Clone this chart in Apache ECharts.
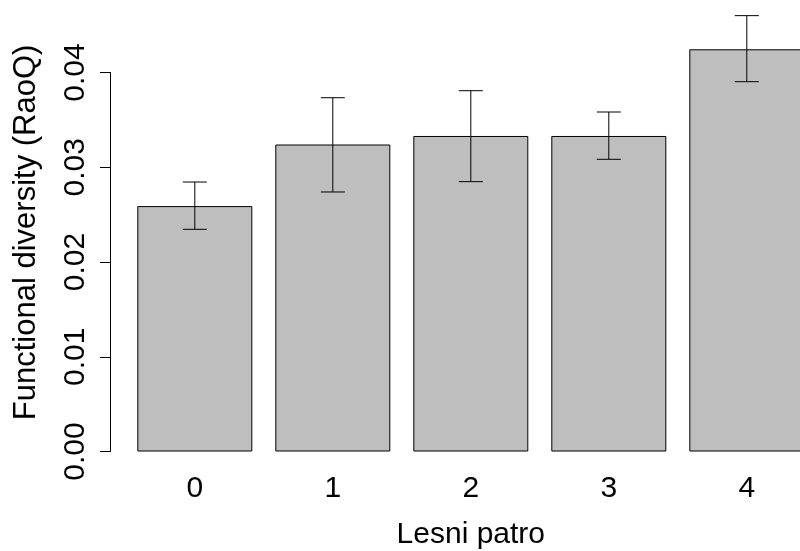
<!DOCTYPE html>
<html>
<head>
<meta charset="utf-8">
<script src="https://cdn.jsdelivr.net/npm/echarts@6/dist/echarts.min.js"></script>
<style>
html,body{margin:0;padding:0;background:#fff;}
#chart{width:800px;height:551px;}
</style>
</head>
<body>
<div id="chart"></div>
<script>
const categories = ['0', '1', '2', '3', '4'];
const means = [0.0259, 0.0324, 0.0333, 0.0333, 0.04245];
const lower = [0.02345, 0.02739, 0.02848, 0.03084, 0.03903];
const upper = [0.02844, 0.03734, 0.03808, 0.03583, 0.04600];
const yTicks = [0, 0.01, 0.02, 0.03, 0.04];
const xTitle = 'Lesni patro';
const yTitle = 'Functional diversity (RaoQ)';

const FONT = "'Liberation Sans', Arial, sans-serif";
const FS = 30;

const errData = categories.map((c, i) => [i, lower[i], upper[i]]);

const chart = echarts.init(document.getElementById('chart'), null, {renderer: 'canvas'});
chart.setOption({
  animation: false,
  backgroundColor: '#ffffff',
  grid: {left: 125.8, width: 690, top: 72.5, bottom: 99.5, containLabel: false, outerBoundsMode: 'none'},
  xAxis: {
    type: 'category',
    data: categories,
    axisLine: {show: false},
    axisTick: {show: false},
    axisLabel: {fontSize: FS, fontFamily: FONT, color: '#000', margin: 22},
    name: xTitle,
    nameLocation: 'middle',
    nameGap: 68,
    nameTextStyle: {fontSize: FS, fontFamily: FONT, color: '#000'}
  },
  yAxis: {
    type: 'value',
    min: yTicks[0],
    max: yTicks[yTicks.length - 1],
    interval: 0.01,
    offset: 15.8,
    axisLine: {show: true, lineStyle: {color: '#000', width: 1}},
    axisTick: {show: true, length: 10, lineStyle: {color: '#000', width: 1}},
    splitLine: {show: false},
    axisLabel: {
      rotate: 90, fontSize: FS, fontFamily: FONT, color: '#000', margin: 19,
      formatter: v => v.toFixed(2)
    }
  },
  graphic: [{
    type: 'text',
    x: 26, y: 232.4,
    rotation: Math.PI / 2,
    style: {text: yTitle, font: '31px ' + FONT, fill: '#000', textAlign: 'center', textVerticalAlign: 'middle'}
  }],
  series: [{
    type: 'bar',
    data: means,
    barWidth: 115,
    clip: false,
    itemStyle: {color: '#BEBEBE', borderColor: '#000', borderWidth: 1}
  }, {
    type: 'custom',
    data: errData,
    clip: false,
    encode: {x: 0, y: [1, 2]},
    z: 10,
    renderItem: function (params, api) {
      const i = api.value(0);
      const lo = api.coord([i, api.value(1)]);
      const hi = api.coord([i, api.value(2)]);
      const hw = 12;
      const st = {stroke: '#000', lineWidth: 1};
      return {
        type: 'group',
        children: [
          {type: 'line', shape: {x1: lo[0], y1: lo[1], x2: hi[0], y2: hi[1]}, style: st},
          {type: 'line', shape: {x1: lo[0] - hw, y1: lo[1], x2: lo[0] + hw, y2: lo[1]}, style: st},
          {type: 'line', shape: {x1: hi[0] - hw, y1: hi[1], x2: hi[0] + hw, y2: hi[1]}, style: st}
        ]
      };
    }
  }]
});
</script>
</body>
</html>
